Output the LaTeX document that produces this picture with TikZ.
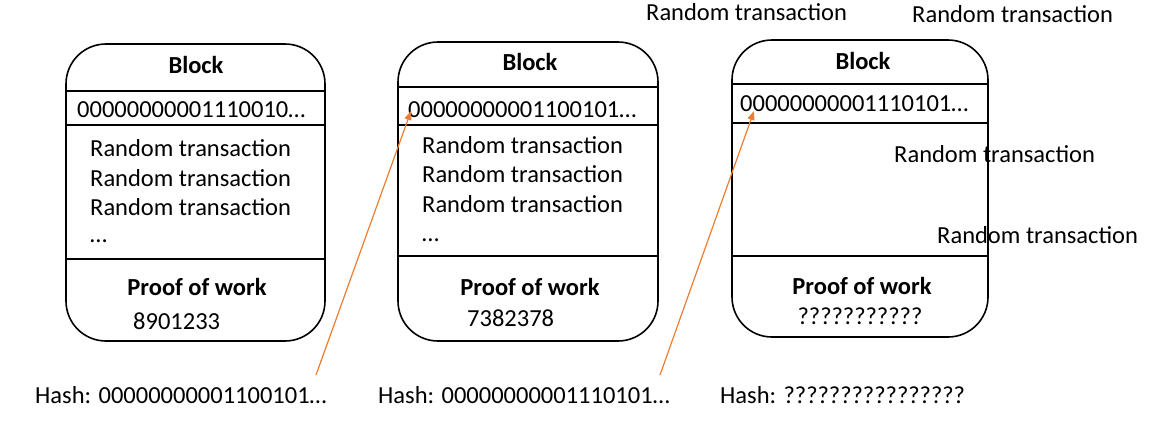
\documentclass[tikz,border=0pt]{standalone}
\usepackage{fontspec}
\setmainfont{Carlito}
\usetikzlibrary{arrows.meta}
\definecolor{arroworange}{RGB}{237,125,49}
\begin{document}
\begin{tikzpicture}[x=1pt,y=-1pt,
  blockbox/.style={draw=black, line width=1.6pt, rounded corners=40pt, inner sep=0pt},
  sep/.style={draw=black, line width=1.6pt},
  txt/.style={font=\fontsize{24.5}{29}\selectfont, inner sep=0pt, text height=15.8pt, text depth=0pt},
  boldtxt/.style={txt, font=\fontsize{24.5}{29}\selectfont\bfseries},
  hasharrow/.style={draw=arroworange, line width=1.2pt, -{Triangle[length=9pt,width=7pt]}}]
\useasboundingbox (0,0) rectangle (1172,424);

% Block 1
\node[blockbox, minimum width=259pt, minimum height=297pt] (b1) at (195.5,192.5) {};
\draw[sep] (66,91) -- (325,91);
\draw[sep] (66,125) -- (325,125);
\draw[sep] (66,259) -- (325,259);
\node[boldtxt] (b1title) at (196,66) {Block};
\node[txt, anchor=west] (b1hash) at (77,110) {00000000001110010…};
\node[txt, anchor=west] (b1t1) at (90,148.5) {Random transaction};
\node[txt, anchor=west] (b1t2) at (90,179) {Random transaction};
\node[txt, anchor=west] (b1t3) at (90,208) {Random transaction};
\node[txt, anchor=west] (b1t4) at (90,235) {…};
\node[boldtxt] (b1pow) at (197,288) {Proof of work};
\node[txt, anchor=west] (b1nonce) at (133,322) {8901233};

% Block 2
\node[blockbox, minimum width=260pt, minimum height=299pt] (b2) at (528,191.5) {};
\draw[sep] (398,87) -- (658,87);
\draw[sep] (398,125) -- (658,125);
\draw[sep] (398,256) -- (658,256);
\node[boldtxt] (b2title) at (530,63) {Block};
\node[txt, anchor=west] (b2hash) at (408,110) {00000000001100101…};
\node[txt, anchor=west] (b2t1) at (422,146) {Random transaction};
\node[txt, anchor=west] (b2t2) at (422,175) {Random transaction};
\node[txt, anchor=west] (b2t3) at (422,205) {Random transaction};
\node[txt, anchor=west] (b2t4) at (422,234) {…};
\node[boldtxt] (b2pow) at (530,288) {Proof of work};
\node[txt, anchor=west] (b2nonce) at (467,319) {7382378};

% Block 3
\node[blockbox, minimum width=256pt, minimum height=297pt] (b3) at (860,188.5) {};
\draw[sep] (732,84) -- (988,84);
\draw[sep] (732,123) -- (988,123);
\draw[sep] (732,256) -- (988,256);
\node[boldtxt] (b3title) at (863,62) {Block};
\node[txt, anchor=west] (b3hash) at (740,104) {00000000001110101…};
\node[txt, anchor=west] (b3t1) at (894,155) {Random transaction};
\node[txt, anchor=west] (b3t2) at (937,236) {Random transaction};
\node[boldtxt] (b3pow) at (862,287) {Proof of work};
\node[txt] (b3nonce) at (860,317) {???????????};

% Floating transactions
\node[txt, anchor=west] (ft1) at (646,13) {Random transaction};
\node[txt, anchor=west] (ft2) at (912,14.5) {Random transaction};

% Hash labels
\node[txt, anchor=west] (h1) at (35,396) {Hash: 00000000001100101…};
\node[txt, anchor=west] (h2) at (378,396) {Hash: 00000000001110101…};
\node[txt, anchor=west] (h3) at (720,396) {Hash: ????????????????};

% Arrows
\coordinate (a1tail) at (316,375);
\coordinate (a1head) at (411,111);
\coordinate (a2tail) at (660,375);
\coordinate (a2head) at (754,111);
\draw[hasharrow] (a1tail) -- (a1head);
\draw[hasharrow] (a2tail) -- (a2head);
\end{tikzpicture}
\end{document}
